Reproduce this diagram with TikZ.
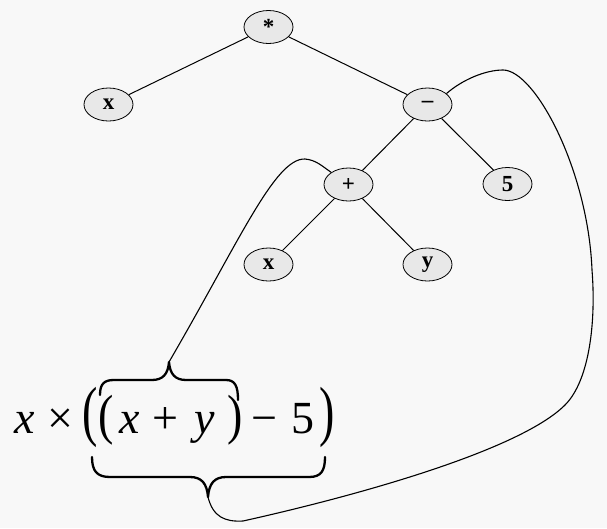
\documentclass[tikz,border=0pt]{standalone}
\usepackage{fontspec}
\setmainfont{Liberation Serif}
\usepackage{graphicx}
\usetikzlibrary{shapes.geometric}
\definecolor{bgc}{RGB}{248,248,248}
\definecolor{nodefill}{RGB}{232,232,232}
\begin{document}
\begin{tikzpicture}[x=1pt,y=-1pt,
 tn/.style={ellipse,draw,line width=0.8pt,fill=nodefill,minimum width=49pt,minimum height=33pt,inner sep=0pt,font=\fontsize{23}{26}\selectfont\bfseries},
 edge/.style={line width=1pt},
 link/.style={line width=1.1pt},
 brc/.style={line width=2.3pt,line cap=round,line join=round},
 fm/.style={anchor=base west,inner sep=0pt,font=\fontsize{46}{52}\selectfont}]
\fill[bgc] (0,0) rectangle (607,528);
\useasboundingbox (0,0) rectangle (607,528);

\node[tn] (r) at (268.5,27) {*};
\node[tn] (a) at (108.5,104.5) {x};
\node[tn] (m) at (427.5,104.5) {–};
\node[tn] (p) at (348.5,184.5) {+};
\node[tn] (f) at (507.5,184) {5};
\node[tn] (b) at (268.5,264.5) {x};
\node[tn] (c) at (427.5,264.5) {y};

\draw[edge] (r) -- (a);
\draw[edge] (r) -- (m);
\draw[edge] (m) -- (p);
\draw[edge] (m) -- (f);
\draw[edge] (p) -- (b);
\draw[edge] (p) -- (c);

\node[fm] (f1) at (14,433) {\textit{x}};
\node[fm] (f2) at (47,433) {×};
\node[fm] (f3) at (82,433) {\scalebox{1}[1.45]{(}};
\node[fm] (f4) at (98,433) {\scalebox{1}[1.2]{(}};
\node[fm] (f5) at (119,433) {\textit{x}};
\node[fm] (f6) at (152,433) {+};
\node[fm] (f7) at (194,433) {\textit{y}};
\node[fm] (f8) at (227,433) {\scalebox{1}[1.2]{)}};
\node[fm] (f9) at (251,433) {−};
\node[fm] (f10) at (291,433) {5};
\node[fm] (f11) at (319,433) {\scalebox{1}[1.45]{)}};

\coordinate (tb) at (169,362);
\coordinate (bb) at (208,497);

\draw[brc] (100,395) .. controls (100,384) and (104,380) .. (114,380) -- (152,380) .. controls (163,380) and (168,374) .. (tb) .. controls (170,374) and (175,380) .. (186,380) -- (226,380) .. controls (235,380) and (238,386) .. (238,400);
\draw[brc] (92,457) .. controls (92,471) and (97,477) .. (110,477) -- (190,477) .. controls (202,477) and (207,484) .. (bb) .. controls (209,484) and (214,477) .. (226,477) -- (309,477) .. controls (321,477) and (325,471) .. (325,457);

\draw[link] (tb) .. controls (240,240) and (275,158) .. (305,159) .. controls (316,160) and (322,166) .. (p.145);
\draw[link] (bb) .. controls (213,517) and (225,522) .. (243,521) .. controls (360,495) and (520,450) .. (565,405) .. controls (590,380) and (596,320) .. (592,270) .. controls (588,170) and (535,70) .. (503,70) .. controls (485,70) and (462,80) .. (m.30);
\end{tikzpicture}
\end{document}
